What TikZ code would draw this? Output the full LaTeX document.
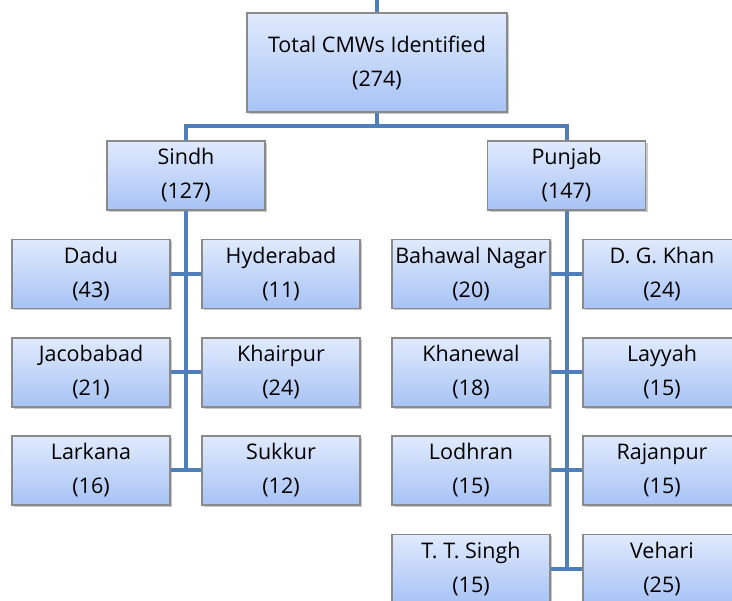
\documentclass[tikz,border=0pt]{standalone}
\usepackage{fontspec}
\setmainfont{Open Sans}
\definecolor{linkblue}{HTML}{4F7FBA}
\definecolor{boxtop}{HTML}{E0EAFD}
\definecolor{boxbot}{HTML}{A7C3F5}
\definecolor{boxedge}{HTML}{8A8A8A}
\tikzset{
  cbox/.style={rectangle, draw=boxedge, line width=1.3pt, top color=boxtop, bottom color=boxbot,
    minimum width=158pt, minimum height=69pt, inner sep=0pt, align=center,
    font=\fontsize{21.5}{34}\selectfont,
    drop shadow={shadow xshift=2pt, shadow yshift=-2pt, opacity=0.35, fill=black!60}},
  link/.style={draw=linkblue, line width=4pt}
}
\usetikzlibrary{shadows}
\begin{document}
\begin{tikzpicture}[x=1pt,y=-1pt]
\useasboundingbox (0,0) rectangle (732,601);
\clip (0,0) rectangle (732,601);
\fill[white] (0,0) rectangle (732,601);
\node[cbox, minimum width=260pt, minimum height=99pt] (top) at (377,62.5) {Total CMWs Identified\\(274)};
\coordinate (topin) at (377,0);
\node[cbox] (sindh) at (186,175.5) {Sindh\\(127)};
\node[cbox] (punjab) at (566.5,175.5) {Punjab\\(147)};
\node[cbox] (dadu) at (91,274) {Dadu\\(43)};
\node[cbox] (hyd) at (281,274) {Hyderabad\\(11)};
\node[cbox] (jac) at (91,372.5) {Jacobabad\\(21)};
\node[cbox] (khp) at (281,372.5) {Khairpur\\(24)};
\node[cbox] (lar) at (91,470.5) {Larkana\\(16)};
\node[cbox] (suk) at (281,470.5) {Sukkur\\(12)};
\node[cbox] (bah) at (471,274) {Bahawal Nagar\\(20)};
\node[cbox] (dgk) at (662,274) {D. G. Khan\\(24)};
\node[cbox] (kha) at (471,372.5) {Khanewal\\(18)};
\node[cbox] (lay) at (662,372.5) {Layyah\\(15)};
\node[cbox] (lod) at (471,470.5) {Lodhran\\(15)};
\node[cbox] (raj) at (662,470.5) {Rajanpur\\(15)};
\node[cbox] (tts) at (471,569) {T. T. Singh\\(15)};
\node[cbox] (veh) at (662,569) {Vehari\\(25)};
\coordinate (sj) at (377,126);
\draw[link] (topin) -- (top.north);
\draw[link] (top.south) -- (sj);
\draw[link] (sindh.north) |- (sj) -| (punjab.north);
\draw[link] (sindh.south) -- (sindh.south |- lar.east);
\draw[link] (punjab.south) -- (punjab.south |- tts.east);
\draw[link] (dadu.east) -- (hyd.west);
\draw[link] (jac.east) -- (khp.west);
\draw[link] (lar.east) -- (suk.west);
\draw[link] (bah.east) -- (dgk.west);
\draw[link] (kha.east) -- (lay.west);
\draw[link] (lod.east) -- (raj.west);
\draw[link] (tts.east) -- (veh.west);
\end{tikzpicture}
\end{document}
